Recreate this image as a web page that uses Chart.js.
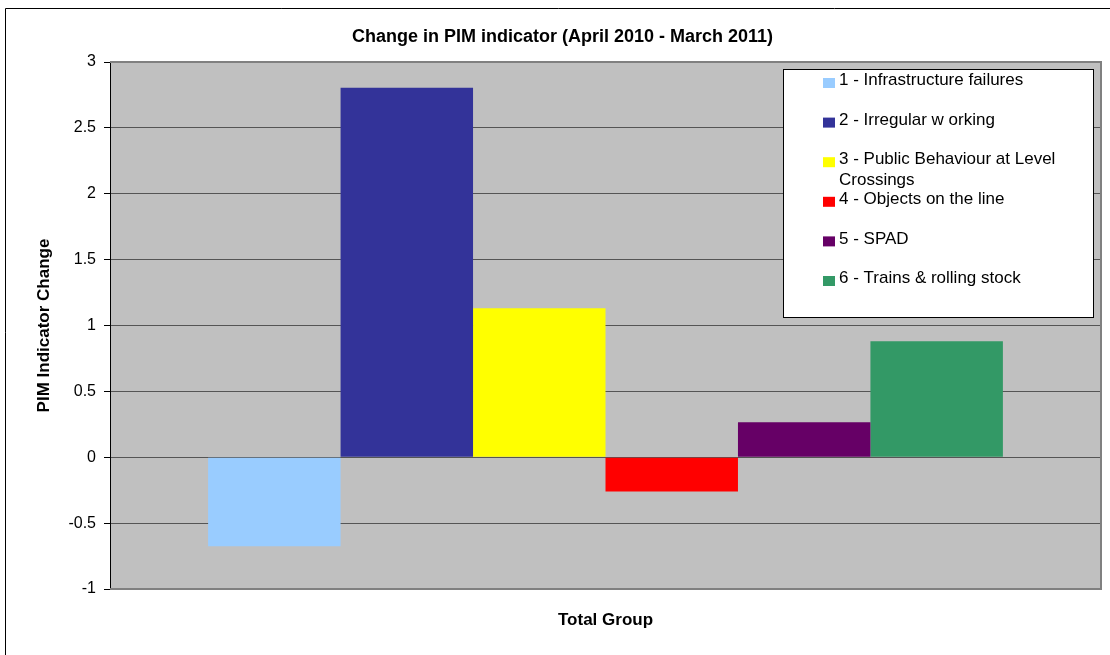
<!DOCTYPE html>
<html>
<head>
<meta charset="utf-8">
<script src="https://cdn.jsdelivr.net/npm/chart.js@4.4.0/dist/chart.umd.min.js"></script>
<style>
  html, body { margin: 0; padding: 0; background: #ffffff; }
  #wrap { width: 1110px; height: 655px; }
</style>
</head>
<body>
<div id="wrap"><canvas id="c" width="1110" height="655"></canvas></div>
<script>
// ---- data ----
const categories = ['Total Group'];
const seriesNames = [
  '1 - Infrastructure failures',
  '2 - Irregular w orking',
  '3 - Public Behaviour at Level Crossings',
  '4 - Objects on the line',
  '5 - SPAD',
  '6 - Trains & rolling stock'
];
const seriesValues = [-0.675, 2.805, 1.13, -0.26, 0.265, 0.88];
const seriesColors = ['#99CCFF', '#333399', '#FFFF00', '#FF0000', '#660066', '#339966'];
const yTickMin = -1, yTickMax = 3, yTickStep = 0.5;
const titleText = 'Change in PIM indicator (April 2010 - March 2011)';
const yTitleText = 'PIM Indicator Change';

const FONT = '"Liberation Sans", Arial, sans-serif';

const datasets = seriesNames.map((name, i) => ({
  label: name,
  data: [seriesValues[i]],
  backgroundColor: seriesColors[i],
  borderWidth: 0,
  categoryPercentage: 0.802,
  barPercentage: 1.0
}));

const bgPlugin = {
  id: 'bgPlugin',
  beforeDraw(chart) {
    const ctx = chart.ctx;
    const a = chart.chartArea;
    ctx.save();
    ctx.fillStyle = '#ffffff';
    ctx.fillRect(0, 0, chart.width, chart.height);
    ctx.strokeStyle = '#000000';
    ctx.lineWidth = 1;
    ctx.beginPath();
    ctx.moveTo(5.5, chart.height + 2);
    ctx.lineTo(5.5, 8.5);
    ctx.lineTo(chart.width + 2, 8.5);
    ctx.stroke();
    ctx.fillStyle = '#C0C0C0';
    ctx.fillRect(a.left, a.top, a.right - a.left, a.bottom - a.top);
    ctx.restore();
  },
  beforeDatasetsDraw(chart) {
    const ctx = chart.ctx;
    const a = chart.chartArea;
    ctx.save();
    ctx.strokeStyle = '#808080';
    ctx.lineWidth = 2;
    ctx.beginPath();
    ctx.moveTo(a.left, a.top);
    ctx.lineTo(a.right, a.top);
    ctx.lineTo(a.right, a.bottom);
    ctx.lineTo(a.left, a.bottom);
    ctx.stroke();
    ctx.restore();
  }
};

const legendPlugin = {
  id: 'boxLegend',
  afterDraw(chart) {
    const ctx = chart.ctx;
    const x0 = 783.5, y0 = 69.5, w = 310, h = 248;
    ctx.save();
    ctx.fillStyle = '#ffffff';
    ctx.fillRect(x0, y0, w, h);
    ctx.strokeStyle = '#000000';
    ctx.lineWidth = 1;
    ctx.strokeRect(x0, y0, w, h);
    ctx.font = '17px ' + FONT;
    ctx.textBaseline = 'middle';
    ctx.textAlign = 'left';
    const maxW = 1085 - 840;
    let y = 80.5;
    chart.data.datasets.forEach((ds) => {
      ctx.fillStyle = ds.backgroundColor;
      ctx.fillRect(823, y - 2.5, 12, 10);
      ctx.fillStyle = '#000000';
      const words = ds.label.split(' ');
      const lines = [];
      let cur = '';
      words.forEach(wd => {
        const t = cur ? cur + ' ' + wd : wd;
        if (ctx.measureText(t).width > maxW && cur) { lines.push(cur); cur = wd; }
        else cur = t;
      });
      lines.push(cur);
      lines.forEach((ln, k) => ctx.fillText(ln, 839, y + k * 21));
      y += 39.6;
    });
    ctx.restore();
  }
};

new Chart(document.getElementById('c'), {
  type: 'bar',
  data: { labels: categories, datasets: datasets },
  plugins: [bgPlugin, legendPlugin],
  options: {
    responsive: false,
    animation: false,
    devicePixelRatio: 1,
    layout: { padding: { left: 24, right: 9, top: 26, bottom: 0 } },
    plugins: {
      legend: { display: false },
      tooltip: { enabled: false },
      title: {
        display: true,
        text: titleText,
        color: '#000000',
        font: { family: FONT, size: 18, weight: 'bold', lineHeight: 1.2 },
        padding: { top: 0, bottom: 14.4 }
      }
    },
    scales: {
      x: {
        grid: { display: false, drawTicks: false },
        border: { display: false },
        ticks: { color: '#000000', font: { family: FONT, size: 17, weight: 'bold', lineHeight: 1.2 }, padding: 21 },
        afterFit(scale) { scale.height = 66; }
      },
      y: {
        min: yTickMin,
        max: yTickMax,
        ticks: {
          stepSize: yTickStep,
          color: '#000000',
          font: { family: FONT, size: 16 },
          padding: 8,
          callback: (v) => String(v)
        },
        grid: {
          color: (c) => (c.tick && (c.tick.value === yTickMax || c.tick.value === yTickMin)) ? '#808080' : '#555555',
          lineWidth: 1,
          tickLength: 6,
          tickColor: '#000000'
        },
        border: { display: true, color: '#000000', width: 1 },
        title: {
          display: true,
          text: yTitleText,
          color: '#000000',
          font: { family: FONT, size: 17, weight: 'bold', lineHeight: 1.2 },
          padding: { top: 10.5, bottom: 0 }
        },
        afterFit(scale) { scale.width = 86; }
      }
    }
  }
});
</script>
</body>
</html>
